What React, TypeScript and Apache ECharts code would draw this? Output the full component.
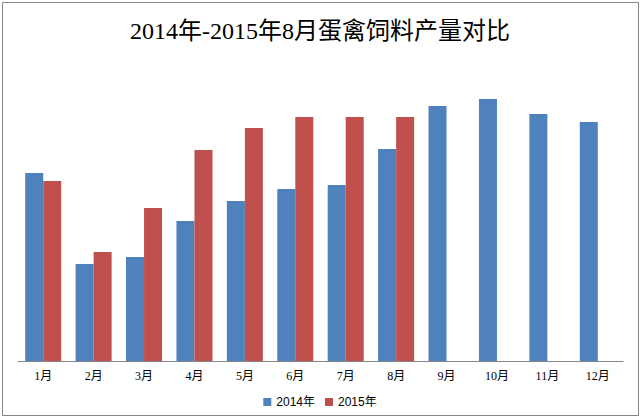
import React, { useEffect, useRef } from "react";
import * as echarts from "echarts";

const categories = ["1月", "2月", "3月", "4月", "5月", "6月", "7月", "8月", "9月", "10月", "11月", "12月"];
const series2014 = [188, 97, 104, 140, 160, 172, 176, 212, 255, 262, 247, 239];
const series2015 = [180, 109, 153, 211, 233, 244, 244, 244, null, null, null, null];
const seriesNames = ["2014年", "2015年"];
const titleText = "2014年-2015年8月蛋禽饲料产量对比";

export default function App() {
  const ref = useRef<HTMLDivElement>(null);
  useEffect(() => {
    if (!ref.current) return;
    const chart = echarts.init(ref.current, null, { renderer: "svg" });
    chart.setOption({
      animation: false,
      backgroundColor: "#ffffff",
      title: {
        text: titleText,
        left: "center",
        top: 14,
        textStyle: {
          fontFamily: "'Liberation Serif', 'Noto Sans CJK SC', serif",
          fontSize: 24,
          fontWeight: "normal",
          color: "#000000",
        },
      },
      legend: {
        data: seriesNames,
        left: "center",
        top: 391,
        itemWidth: 8,
        itemHeight: 8,
        itemGap: 10,
        icon: "rect",
        textStyle: {
          fontFamily: "'Liberation Sans', 'Noto Sans CJK SC', sans-serif",
          fontSize: 12,
          color: "#000000",
        },
      },
      grid: { left: 18, right: 17, top: 61, bottom: 56, containLabel: false },
      xAxis: {
        type: "category",
        data: categories,
        axisLine: { lineStyle: { color: "#868686", width: 1 } },
        axisTick: { show: false },
        axisLabel: {
          margin: 9,
          fontFamily: "'Liberation Serif', 'Noto Sans CJK SC', serif",
          fontSize: 12,
          color: "#000000",
          interval: 0,
        },
      },
      yAxis: {
        type: "value",
        min: 0,
        max: 300,
        show: false,
        splitLine: { show: false },
      },
      series: [
        {
          name: seriesNames[0],
          type: "bar",
          data: series2014,
          barWidth: 18,
          barGap: "0%",
          itemStyle: { color: "#4F81BD" },
        },
        {
          name: seriesNames[1],
          type: "bar",
          data: series2015,
          barWidth: 18,
          barGap: "0%",
          itemStyle: { color: "#C0504D" },
        },
      ],
      graphic: [
        {
          type: "rect",
          shape: { x: 2.5, y: 2.5, width: 636, height: 413 },
          style: { fill: "none", stroke: "#868686", lineWidth: 1 },
          silent: true,
        },
      ],
    });
    return () => chart.dispose();
  }, []);
  return (
    <div
      ref={ref}
      style={{ position: "fixed", left: 0, top: 0, width: 640, height: 417 }}
    />
  );
}
